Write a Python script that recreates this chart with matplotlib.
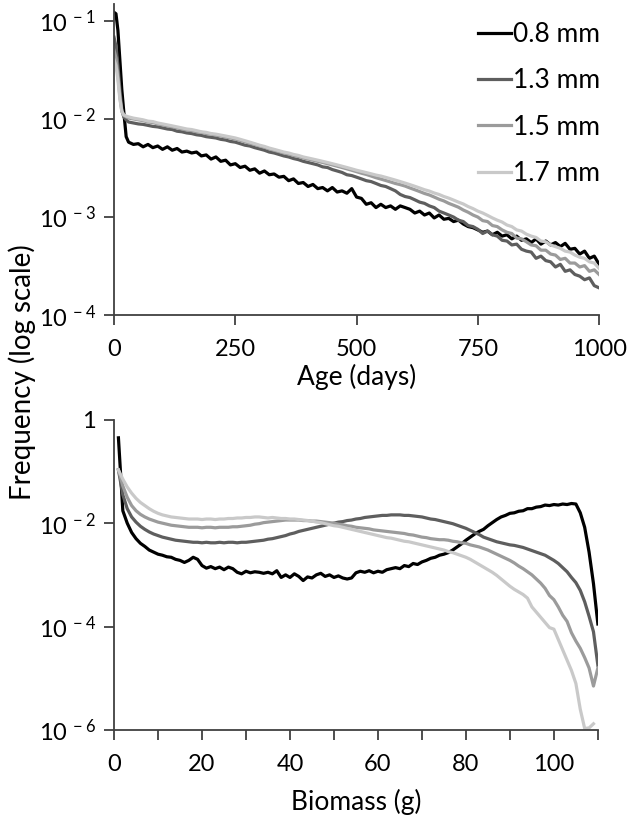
import numpy as np
import matplotlib.pyplot as plt
from matplotlib.ticker import FixedLocator, FixedFormatter, NullLocator

plt.rcParams.update({
    "font.family": ["Lato", "DejaVu Sans"],
    "font.size": 16,
    "mathtext.fontset": "custom",
    "mathtext.rm": "Lato",
    "mathtext.default": "regular",
    "axes.spines.top": False,
    "axes.spines.right": False,
})

# ── series labels / colours ────────────────────────────────
labels = ["0.8 mm", "1.3 mm", "1.5 mm", "1.7 mm"]
colors = ["#000000", "#5e5e5e", "#9b9b9b", "#c9c9c9"]

# ── top panel: frequency vs age (values in units of 1e-3) ──
age = [0, 4, 8, 12, 16, 20, 25] + list(range(30, 1001, 10))

age_08 = [122, 118, 80, 40, 20, 12, 6.6,
          5.8, 5.5, 5.6, 5.2, 5.5, 5.1, 5.3, 4.9, 5.2, 4.8,
          5.0, 4.6, 4.7, 4.5, 4.6, 4.2, 4.3, 3.9, 4.1, 3.7,
          3.8, 3.4, 3.5, 3.2, 3.3, 3.0, 3.1, 2.8, 2.95, 2.7,
          2.75, 2.55, 2.6, 2.35, 2.45, 2.2, 2.25, 2.05, 2.15, 1.95,
          2.0, 1.85, 2.0, 1.8, 1.85, 1.75, 1.95, 1.6, 1.55, 1.35,
          1.4, 1.25, 1.35, 1.25, 1.3, 1.2, 1.3, 1.25, 1.2, 1.1,
          1.15, 1.05, 1.1, 0.98, 1.05, 0.95, 0.97, 0.9, 0.93, 0.85,
          0.8, 0.78, 0.74, 0.7, 0.72, 0.66, 0.7, 0.64, 0.66, 0.6,
          0.64, 0.58, 0.6, 0.55, 0.6, 0.53, 0.57, 0.52, 0.55, 0.5,
          0.54, 0.47, 0.48, 0.42, 0.45, 0.38, 0.4, 0.33]

age_13 = [68, 55, 35, 20, 12.5, 10.5, 9.8,
          9.3, 9.1, 8.9, 8.8, 8.6, 8.4, 8.3, 8.1, 7.9, 7.8,
          7.5, 7.4, 7.2, 7.1, 6.9, 6.8, 6.6, 6.5, 6.4, 6.2,
          6.1, 5.9, 5.8, 5.6, 5.4, 5.3, 5.1, 4.95, 4.8, 4.6,
          4.5, 4.35, 4.2, 4.1, 3.95, 3.85, 3.7, 3.6, 3.5, 3.4,
          3.25, 3.2, 3.05, 2.95, 2.85, 2.7, 2.65, 2.55, 2.45, 2.35,
          2.3, 2.2, 2.1, 2.05, 1.95, 1.85, 1.7, 1.62, 1.58, 1.5,
          1.42, 1.38, 1.3, 1.25, 1.15, 1.1, 1.05, 1.0, 0.93, 0.9,
          0.82, 0.8, 0.75, 0.68, 0.72, 0.66, 0.64, 0.58, 0.57, 0.52,
          0.53, 0.47, 0.45, 0.44, 0.38, 0.4, 0.36, 0.35, 0.31, 0.33,
          0.28, 0.29, 0.26, 0.25, 0.23, 0.24, 0.2, 0.19]

age_15 = [50, 42, 28, 17, 12, 10.8, 10.5,
          10.2, 10.0, 9.8, 9.6, 9.3, 9.2, 8.9, 8.7, 8.5, 8.3,
          8.1, 7.9, 7.7, 7.6, 7.4, 7.3, 7.1, 7.0, 6.85, 6.7,
          6.55, 6.4, 6.25, 6.05, 5.85, 5.65, 5.5, 5.3, 5.15, 4.95,
          4.8, 4.65, 4.5, 4.4, 4.25, 4.15, 4.0, 3.9, 3.8, 3.7,
          3.6, 3.5, 3.4, 3.3, 3.2, 3.1, 3.0, 2.9, 2.8, 2.72,
          2.62, 2.52, 2.44, 2.36, 2.28, 2.2, 2.14, 2.07, 1.98, 1.9,
          1.82, 1.74, 1.68, 1.6, 1.52, 1.46, 1.38, 1.32, 1.26, 1.18,
          1.12, 1.05, 1.0, 0.92, 0.9, 0.82, 0.8, 0.74, 0.7, 0.68,
          0.61, 0.6, 0.56, 0.52, 0.51, 0.46, 0.46, 0.42, 0.41, 0.37,
          0.38, 0.34, 0.34, 0.31, 0.32, 0.28, 0.29, 0.26]

age_17 = [40, 35, 25, 16, 12, 11, 10.7,
          10.5, 10.2, 10.0, 9.8, 9.5, 9.4, 9.1, 8.9, 8.7, 8.5,
          8.3, 8.1, 7.9, 7.8, 7.6, 7.4, 7.3, 7.1, 7.0, 6.85,
          6.7, 6.55, 6.4, 6.2, 6.0, 5.8, 5.6, 5.4, 5.25, 5.05,
          4.9, 4.75, 4.6, 4.5, 4.35, 4.25, 4.1, 4.0, 3.9, 3.8,
          3.7, 3.6, 3.5, 3.4, 3.3, 3.2, 3.1, 3.0, 2.92, 2.84,
          2.76, 2.68, 2.62, 2.54, 2.46, 2.38, 2.3, 2.22, 2.14, 2.06,
          1.98, 1.9, 1.84, 1.76, 1.7, 1.62, 1.56, 1.49, 1.42, 1.36,
          1.28, 1.22, 1.15, 1.1, 1.04, 0.98, 0.93, 0.89, 0.83, 0.8,
          0.74, 0.72, 0.67, 0.64, 0.62, 0.57, 0.56, 0.52, 0.5, 0.48,
          0.45, 0.44, 0.41, 0.39, 0.38, 0.35, 0.34, 0.3]

# ── bottom panel: frequency vs biomass (log10 of frequency) ─
biomass = list(range(1, 111))
biomass_17 = list(range(1, 110))

bio_08 = [-0.35, -1.76, -2.00, -2.18, -2.30, -2.39, -2.45, -2.52, -2.56, -2.60,
          -2.62, -2.65, -2.66, -2.70, -2.72, -2.76, -2.72, -2.66, -2.70, -2.82,
          -2.87, -2.84, -2.88, -2.85, -2.90, -2.85, -2.88, -2.95, -2.98, -2.93,
          -2.96, -2.94, -2.95, -2.97, -2.95, -2.98, -2.92, -3.05, -3.00, -3.05,
          -2.98, -3.03, -3.11, -3.04, -3.06, -3.00, -2.97, -3.03, -3.00, -3.05,
          -3.02, -3.06, -3.08, -3.06, -2.96, -2.93, -2.95, -2.92, -2.96, -2.93,
          -2.95, -2.90, -2.88, -2.86, -2.88, -2.82, -2.84, -2.78, -2.80, -2.75,
          -2.72, -2.68, -2.66, -2.62, -2.60, -2.57, -2.52, -2.46, -2.40, -2.33,
          -2.27, -2.21, -2.16, -2.12, -2.05, -1.99, -1.93, -1.88, -1.85, -1.81,
          -1.80, -1.77, -1.76, -1.72, -1.72, -1.69, -1.68, -1.65, -1.66, -1.64,
          -1.65, -1.63, -1.64, -1.62, -1.63, -1.80, -2.08, -2.56, -3.17, -3.95]

bio_13 = [-0.97, -1.45, -1.72, -1.88, -1.98, -2.06, -2.12, -2.17, -2.21, -2.24,
          -2.27, -2.29, -2.31, -2.33, -2.34, -2.35, -2.36, -2.37, -2.37, -2.38,
          -2.37, -2.38, -2.38, -2.37, -2.38, -2.37, -2.37, -2.38, -2.37, -2.37,
          -2.36, -2.35, -2.34, -2.33, -2.31, -2.30, -2.28, -2.26, -2.24, -2.21,
          -2.19, -2.16, -2.14, -2.12, -2.10, -2.08, -2.06, -2.04, -2.02, -2.00,
          -1.98, -1.97, -1.95, -1.94, -1.92, -1.91, -1.89, -1.88, -1.87, -1.86,
          -1.85, -1.85, -1.84, -1.84, -1.84, -1.85, -1.85, -1.86, -1.87, -1.88,
          -1.90, -1.92, -1.93, -1.95, -1.97, -1.99, -2.01, -2.04, -2.07, -2.10,
          -2.14, -2.18, -2.22, -2.27, -2.30, -2.33, -2.36, -2.38, -2.40, -2.42,
          -2.43, -2.45, -2.47, -2.50, -2.53, -2.56, -2.59, -2.62, -2.67, -2.72,
          -2.78, -2.86, -2.94, -3.05, -3.15, -3.30, -3.52, -3.80, -4.10, -4.75]

bio_15 = [-0.97, -1.28, -1.50, -1.66, -1.76, -1.83, -1.88, -1.92, -1.95, -1.98,
          -2.00, -2.02, -2.04, -2.05, -2.06, -2.07, -2.08, -2.08, -2.08, -2.09,
          -2.08, -2.08, -2.09, -2.08, -2.08, -2.08, -2.07, -2.07, -2.06, -2.05,
          -2.04, -2.02, -2.01, -1.99, -1.98, -1.97, -1.96, -1.95, -1.94, -1.94,
          -1.94, -1.94, -1.95, -1.95, -1.96, -1.96, -1.97, -1.98, -1.99, -2.00,
          -2.02, -2.03, -2.05, -2.06, -2.08, -2.09, -2.10, -2.11, -2.13, -2.14,
          -2.15, -2.16, -2.17, -2.18, -2.19, -2.20, -2.22, -2.23, -2.25, -2.27,
          -2.28, -2.30, -2.31, -2.32, -2.32, -2.33, -2.35, -2.36, -2.38, -2.39,
          -2.42, -2.44, -2.46, -2.49, -2.52, -2.56, -2.60, -2.64, -2.68, -2.72,
          -2.77, -2.83, -2.88, -2.94, -3.00, -3.08, -3.16, -3.26, -3.40, -3.48,
          -3.62, -3.78, -3.90, -4.12, -4.28, -4.42, -4.60, -4.80, -5.15, -4.80]

bio_17 = [-0.97, -1.15, -1.30, -1.42, -1.52, -1.60, -1.66, -1.72, -1.77, -1.81,
          -1.84, -1.86, -1.88, -1.89, -1.90, -1.91, -1.92, -1.92, -1.92, -1.93,
          -1.92, -1.92, -1.93, -1.92, -1.92, -1.91, -1.91, -1.90, -1.90, -1.89,
          -1.89, -1.88, -1.88, -1.89, -1.90, -1.89, -1.90, -1.91, -1.91, -1.92,
          -1.92, -1.93, -1.94, -1.95, -1.96, -1.98, -1.99, -2.01, -2.03, -2.05,
          -2.06, -2.08, -2.10, -2.12, -2.14, -2.16, -2.18, -2.20, -2.22, -2.24,
          -2.26, -2.28, -2.29, -2.31, -2.33, -2.35, -2.36, -2.38, -2.40, -2.42,
          -2.44, -2.46, -2.48, -2.50, -2.52, -2.55, -2.57, -2.60, -2.63, -2.66,
          -2.70, -2.75, -2.80, -2.85, -2.90, -2.95, -3.01, -3.08, -3.15, -3.22,
          -3.28, -3.33, -3.38, -3.45, -3.62, -3.72, -3.82, -3.92, -4.02, -4.05,
          -4.25, -4.45, -4.65, -4.85, -5.10, -5.60, -5.97, -5.96, -5.88]

# tick labels
age_ticks = [0, 250, 500, 750, 1000]
top_yticks = [1e-4, 1e-3, 1e-2, 1e-1]
top_ylabels = ["$10^{\\,-4}$", "$10^{\\,-3}$", "$10^{\\,-2}$", "$10^{\\,-1}$"]
bio_ticks = [0, 20, 40, 60, 80, 100]
bio_minor = [10, 30, 50, 70, 90, 110]
bot_yticks = [1e-6, 1e-4, 1e-2, 1]
bot_ylabels = ["$10^{\\,-6}$", "$10^{\\,-4}$", "$10^{\\,-2}$", "1"]

AXIS_COLOR = "#404040"
LW = 2.3
LABEL_FS = 19
TICK_FS = 17


def style_axis(ax):
    for s in ("left", "bottom"):
        ax.spines[s].set_color(AXIS_COLOR)
        ax.spines[s].set_linewidth(1.3)
    ax.tick_params(which="both", direction="out", color=AXIS_COLOR,
                   width=1.3, length=7, labelsize=TICK_FS)
    ax.tick_params(axis="x", pad=10)
    ax.tick_params(axis="y", pad=6)


fig = plt.figure(figsize=(6.3, 8.23), dpi=100)

# ── top ───────────────────────────────────────────────────
ax1 = fig.add_axes([0.181, 0.617, 0.770, 0.378])
for vals, lab, col in zip([age_08, age_13, age_15, age_17], labels, colors):
    ax1.plot(age, np.array(vals) * 1e-3, color=col, lw=LW, label=lab,
             solid_joinstyle="round")
ax1.set_yscale("log")
ax1.set_xlim(0, 1000)
ax1.set_ylim(1e-4, 0.148)
ax1.xaxis.set_major_locator(FixedLocator(age_ticks))
ax1.yaxis.set_major_locator(FixedLocator(top_yticks))
ax1.yaxis.set_major_formatter(FixedFormatter(top_ylabels))
ax1.yaxis.set_minor_locator(NullLocator())
style_axis(ax1)
ax1.set_xlabel("Age (days)", fontsize=LABEL_FS, labelpad=3)

leg = ax1.legend(loc="upper left", bbox_to_anchor=(0.75, 0.943),
                 frameon=False, fontsize=LABEL_FS, handlelength=1.25,
                 handletextpad=0.1, labelspacing=0.81, borderpad=0,
                 borderaxespad=0)

# ── bottom ────────────────────────────────────────────────
ax2 = fig.add_axes([0.181, 0.113, 0.768, 0.377])
bio_x = [biomass, biomass, biomass, biomass_17]
for x, vals, col in zip(bio_x, [bio_08, bio_13, bio_15, bio_17], colors):
    ax2.plot(x, 10.0 ** np.array(vals), color=col, lw=LW,
             solid_joinstyle="round")
ax2.set_yscale("log")
ax2.set_xlim(0, 110)
ax2.set_ylim(1e-6, 1)
ax2.xaxis.set_major_locator(FixedLocator(bio_ticks))
ax2.xaxis.set_minor_locator(FixedLocator(bio_minor))
ax2.yaxis.set_major_locator(FixedLocator(bot_yticks))
ax2.yaxis.set_major_formatter(FixedFormatter(bot_ylabels))
ax2.yaxis.set_minor_locator(NullLocator())
style_axis(ax2)
ax2.set_xlabel("Biomass (g)", fontsize=LABEL_FS, labelpad=10)

fig.text(0.035, 0.548, "Frequency (log scale)", rotation=90,
         ha="center", va="center", fontsize=LABEL_FS + 1)

fig.savefig("out.png", dpi=100)
